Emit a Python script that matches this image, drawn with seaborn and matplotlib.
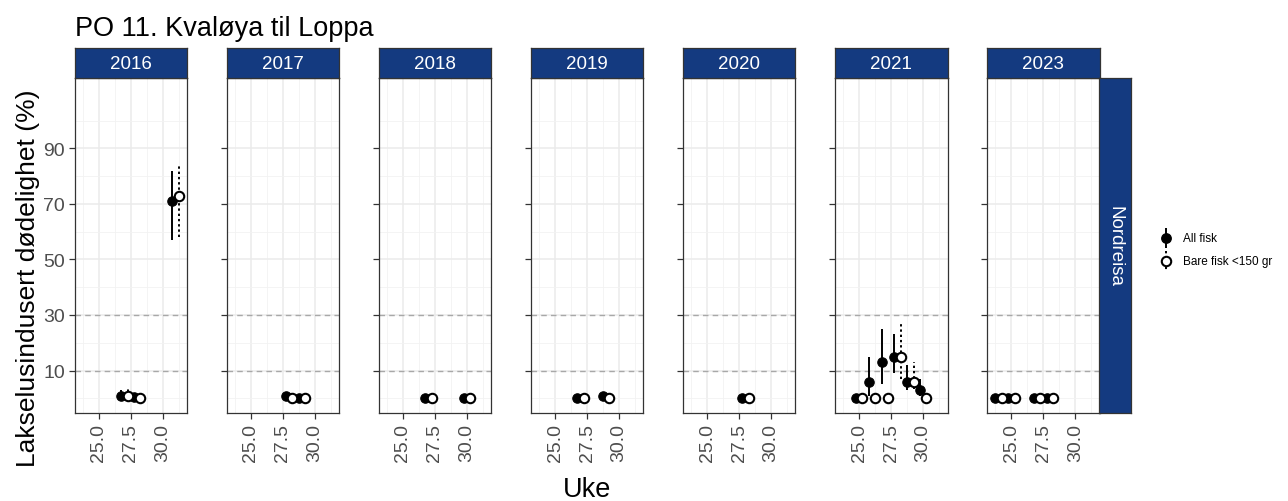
import numpy as np
import pandas as pd
import matplotlib
matplotlib.use("Agg")
import matplotlib.pyplot as plt
import seaborn as sns

# Data (week, mortality % with confidence range)
years = ["2016", "2017", "2018", "2019", "2020", "2021", "2023"]
row_year = ["2016", "2016", "2016", "2017", "2017", "2018", "2018", "2019", "2019", "2020",
            "2021", "2021", "2021", "2021", "2021", "2021",
            "2023", "2023", "2023", "2023"]
row_week = [27, 28, 31, 28, 29, 27, 30, 27, 29, 28,
            25, 26, 27, 28, 29, 30,
            24, 25, 27, 28]
all_fisk = [1, 0.3, 71, 1, 0, 0, 0, 0, 1, 0,
            0, 6, 13, 15, 6, 3,
            0, 0, 0, 0]
all_lo = [0.3, 0.3, 57, 1, 0, 0, 0, 0, 1, 0,
          0, 1, 5, 9, 3, 1,
          0, 0, 0, 0]
all_hi = [3, 0.3, 82, 1, 0, 0, 0, 0, 1, 0,
          0, 15, 25, 23, 12, 7,
          0, 0, 0, 0]
small_fisk = [1, 0, 73, 0, 0, 0, 0, 0, 0, 0,
              0, 0, 0, 15, 6, 0,
              0, 0, 0, 0]
small_lo = [0.5, 0, 58, 0, 0, 0, 0, 0, 0, 0,
            0, 0, 0, 7, 3.5, 0,
            0, 0, 0, 0]
small_hi = [4, 0, 84, 0, 0, 0, 0, 0, 0, 0,
            0, 0, 0, 27, 13, 0,
            0, 0, 0, 0]

y_breaks = [10, 30, 50, 70, 90]
x_breaks = [25.0, 27.5, 30.0]
ref_lines = [10, 30]

df = pd.DataFrame({"year": row_year, "week": row_week,
                   "all": all_fisk, "all_lo": all_lo, "all_hi": all_hi,
                   "small": small_fisk, "small_lo": small_lo, "small_hi": small_hi})

sns.set_theme(style="white")
plt.rcParams["font.family"] = ["Liberation Sans", "DejaVu Sans"]

W, H = 1288, 502
fig = plt.figure(figsize=(W / 100, H / 100), dpi=100)


def fx(px):
    return px / W


def fy(py):
    return 1 - py / H


strip_col = "#143A80"
panel_top, panel_bot = 79, 414
panel_w, pitch, left0 = 112.5, 152.1, 74.5
dodge = 0.25
msize = 46

for i, yr in enumerate(years):
    left = left0 + i * pitch
    ax = fig.add_axes([fx(left), fy(panel_bot), panel_w / W, (panel_bot - panel_top) / H])
    sub = df[df["year"] == yr]

    for yl in ref_lines:
        ax.axhline(yl, color="#A8A8A8", lw=1.0, ls=(0, (4, 3)), zorder=1)

    # All fisk: solid range + filled point
    xa = sub["week"] - dodge
    ax.vlines(xa, sub["all_lo"], sub["all_hi"], color="black", lw=1.4, zorder=2)
    sns.scatterplot(x=xa, y=sub["all"], ax=ax, color="black", s=msize,
                    edgecolor="black", linewidth=0.8, zorder=3, legend=False)
    # Bare fisk <150 gr: dotted range + open point
    xs = sub["week"] + dodge
    ax.vlines(xs, sub["small_lo"], sub["small_hi"], color="black", lw=1.4,
              linestyles=(0, (1.2, 1.5)), zorder=4)
    sns.scatterplot(x=xs, y=sub["small"], ax=ax, color="white", s=msize,
                    edgecolor="black", linewidth=1.5, zorder=5, legend=False)

    ax.set_xlim(23.1, 31.9)
    ax.set_ylim(-5.3, 115.3)
    ax.set_xticks(x_breaks)
    ax.set_xticks([23.75, 26.25, 28.75, 31.25], minor=True)
    ax.set_yticks(y_breaks)
    ax.set_yticks([0, 20, 40, 60, 80, 100], minor=True)
    ax.grid(True, which="major", color="#EBEBEB", lw=1.1, zorder=0)
    ax.grid(True, which="minor", color="#F2F2F2", lw=0.6, zorder=0)
    ax.set_axisbelow(True)
    ax.set_xticklabels([f"{v:.1f}" for v in x_breaks], rotation=90)
    if i == 0:
        ax.set_yticklabels([str(v) for v in y_breaks])
    else:
        ax.set_yticklabels([])
    ax.tick_params(axis="both", which="major", length=4.5, width=0.9, color="#333333",
                   labelsize=14, labelcolor="#4D4D4D", pad=2.5, direction="out",
                   bottom=True, left=True)
    ax.tick_params(which="minor", length=0)
    ax.set_xlabel("")
    ax.set_ylabel("")
    for sp in ax.spines.values():
        sp.set_color("#333333")
        sp.set_linewidth(0.9)

    # facet strip
    sax = fig.add_axes([fx(left), fy(panel_top), panel_w / W, 30 / H])
    sax.set_facecolor(strip_col)
    sax.set_xticks([])
    sax.set_yticks([])
    for sp in sax.spines.values():
        sp.set_color("#333333")
        sp.set_linewidth(0.9)
    sax.text(0.5, 0.47, yr, color="white", fontsize=13.5, ha="center", va="center",
             transform=sax.transAxes)

# right strip
rax = fig.add_axes([fx(1099), fy(panel_bot), 32 / W, (panel_bot - panel_top) / H])
rax.set_facecolor(strip_col)
rax.set_xticks([])
rax.set_yticks([])
for sp in rax.spines.values():
    sp.set_color("#333333")
    sp.set_linewidth(0.9)
rax.text(0.5, 0.5, "Nordreisa", color="white", fontsize=13.5, rotation=-90,
         ha="center", va="center", transform=rax.transAxes)

# titles
fig.text(fx(75), fy(36), "PO 11. Kvaløya til Loppa", fontsize=19.5, color="black",
         ha="left", va="baseline")
fig.text(fx(587), fy(497), "Uke", fontsize=19.5, color="black", ha="center", va="baseline")
fig.text(fx(28), fy(278), "Lakselusindusert dødelighet (%)", fontsize=19, color="black",
         rotation=90, ha="center", va="center")

# legend
lax = fig.add_axes([fx(1150), fy(280), 32 / W, 60 / H])
lax.set_xlim(0, 1)
lax.set_ylim(280, 220)
lax.axis("off")
lax.vlines([0.5], [229], [249], color="black", lw=1.4)
lax.scatter([0.5], [239.3], s=msize, color="black", zorder=3)
lax.vlines([0.5], [252], [272], color="black", lw=1.4, linestyles=(0, (1.2, 1.5)))
lax.scatter([0.5], [261.7], s=msize, facecolor="white", edgecolor="black", linewidth=1.5, zorder=3)
fig.text(fx(1183), fy(239.3), "All fisk", fontsize=8.5, color="black", va="center")
fig.text(fx(1183), fy(261.7), "Bare fisk <150 gr", fontsize=8.5, color="black", va="center")

fig.savefig("out.png", dpi=100)
